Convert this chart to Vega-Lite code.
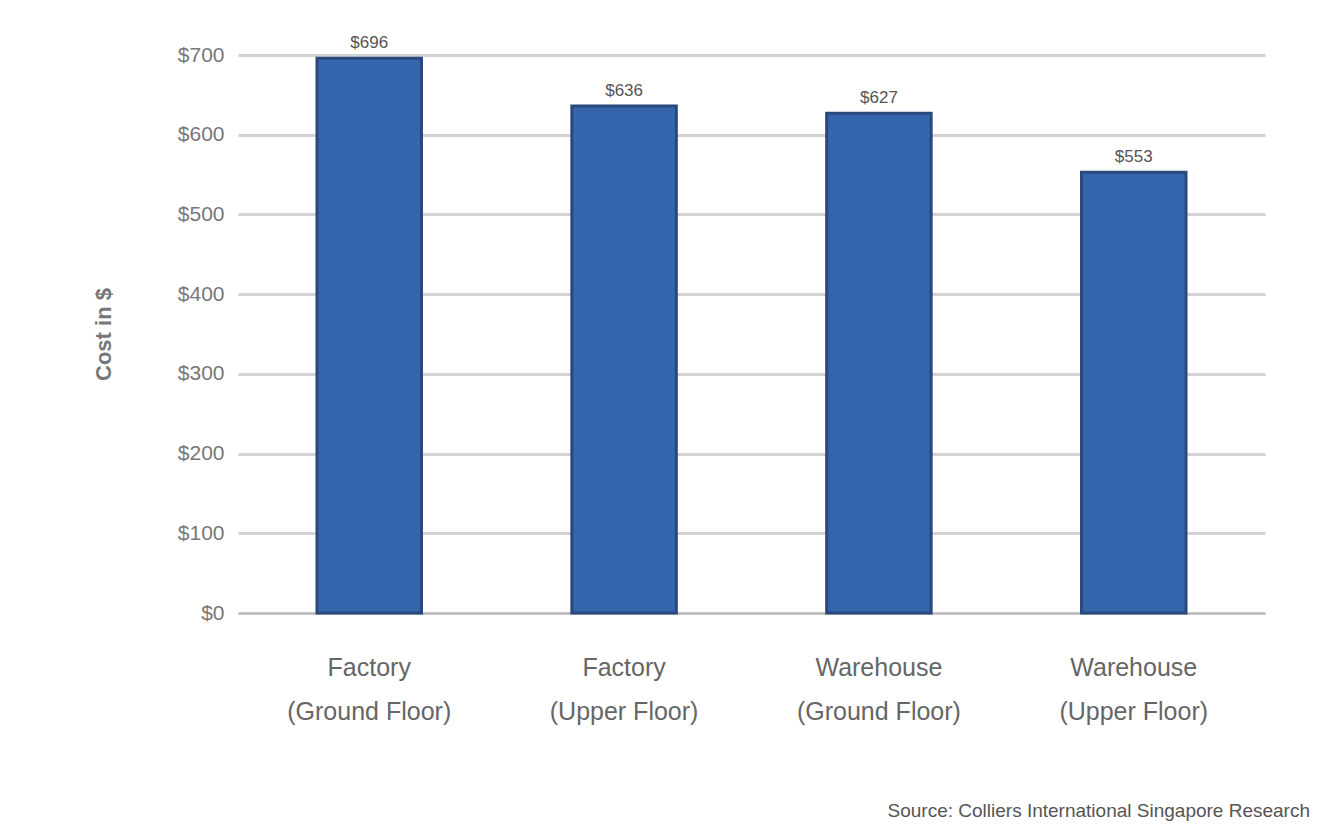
{
  "$schema": "https://vega.github.io/schema/vega-lite/v6.json",
  "width": 1027,
  "height": 558,
  "autosize": "none",
  "padding": {"left": 238, "top": 55, "right": 53, "bottom": 222},
  "background": "white",
  "config": {"view": {"stroke": null}, "font": "Liberation Sans"},
  "title": {
    "text": "Source: Colliers International Singapore Research",
    "orient": "bottom",
    "anchor": "end",
    "fontSize": 19,
    "fontWeight": "normal",
    "color": "#555555",
    "offset": 78,
    "dx": 45
  },
  "data": {
    "values": [
      {"category": "Factory|(Ground Floor)", "cost": 696, "label": "$696"},
      {"category": "Factory|(Upper Floor)", "cost": 636, "label": "$636"},
      {"category": "Warehouse|(Ground Floor)", "cost": 627, "label": "$627"},
      {"category": "Warehouse|(Upper Floor)", "cost": 553, "label": "$553"}
    ]
  },
  "encoding": {
    "x": {
      "field": "category",
      "type": "nominal",
      "sort": null,
      "scale": {"paddingInner": 0.59, "paddingOuter": 0.31},
      "axis": {
        "title": null,
        "labelAngle": 0,
        "labelExpr": "split(datum.label, '|')",
        "labelFontSize": 25,
        "labelLineHeight": 44,
        "labelColor": "#666666",
        "labelPadding": 42,
        "domainColor": "#bbbbbb",
        "domainWidth": 2,
        "ticks": false
      }
    },
    "y": {
      "field": "cost",
      "type": "quantitative",
      "scale": {"domain": [0, 700]},
      "axis": {
        "title": "Cost in $",
        "titleFontSize": 22,
        "titleColor": "#777777",
        "titleFontWeight": "bold",
        "titlePadding": 62,
        "values": [0, 100, 200, 300, 400, 500, 600, 700],
        "labelExpr": "'$' + datum.value",
        "labelFontSize": 21,
        "labelColor": "#777777",
        "labelPadding": 14,
        "domain": false,
        "ticks": false,
        "gridColor": "#d3d3d3",
        "gridWidth": 3
      }
    }
  },
  "layer": [
    {
      "mark": {"type": "bar", "color": "#3566ad", "stroke": "#29497c", "strokeWidth": 3}
    },
    {
      "mark": {"type": "text", "baseline": "bottom", "dy": -6, "fontSize": 17, "color": "#555555"},
      "encoding": {"text": {"field": "label"}}
    }
  ]
}
